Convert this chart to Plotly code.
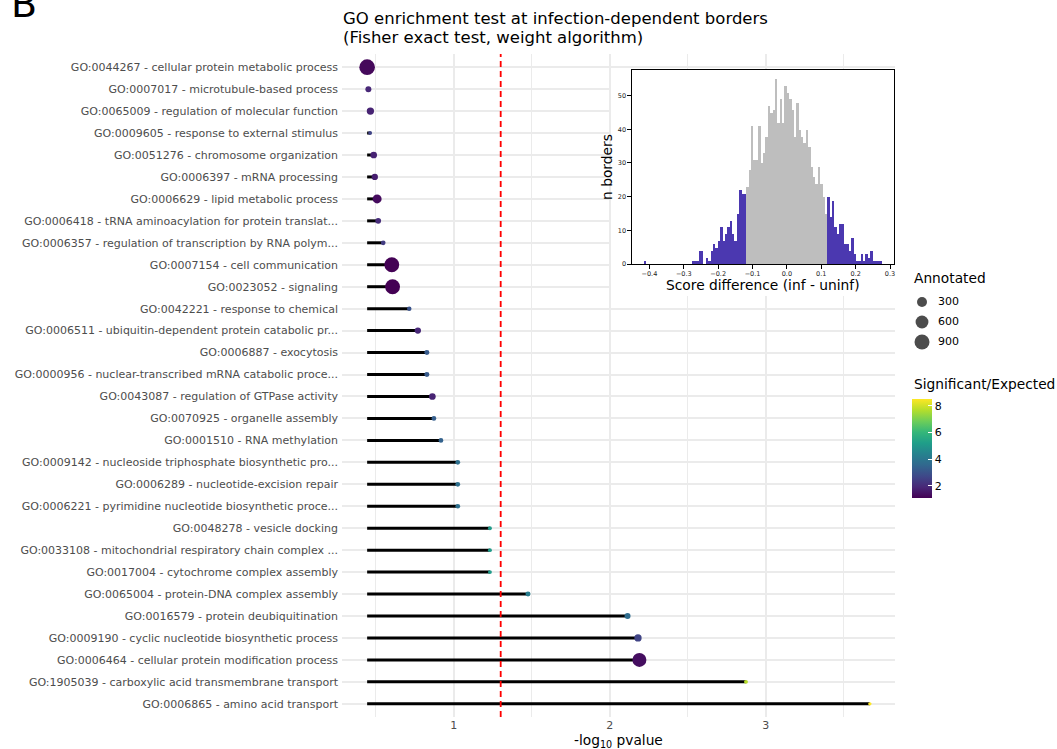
import numpy as np
import plotly.graph_objects as go

W, H = 1057, 749

# GO terms, listed top to bottom
go_terms = [
    "GO:0044267 - cellular protein metabolic process",
    "GO:0007017 - microtubule-based process",
    "GO:0065009 - regulation of molecular function",
    "GO:0009605 - response to external stimulus",
    "GO:0051276 - chromosome organization",
    "GO:0006397 - mRNA processing",
    "GO:0006629 - lipid metabolic process",
    "GO:0006418 - tRNA aminoacylation for protein translat...",
    "GO:0006357 - regulation of transcription by RNA polym...",
    "GO:0007154 - cell communication",
    "GO:0023052 - signaling",
    "GO:0042221 - response to chemical",
    "GO:0006511 - ubiquitin-dependent protein catabolic pr...",
    "GO:0006887 - exocytosis",
    "GO:0000956 - nuclear-transcribed mRNA catabolic proce...",
    "GO:0043087 - regulation of GTPase activity",
    "GO:0070925 - organelle assembly",
    "GO:0001510 - RNA methylation",
    "GO:0009142 - nucleoside triphosphate biosynthetic pro...",
    "GO:0006289 - nucleotide-excision repair",
    "GO:0006221 - pyrimidine nucleotide biosynthetic proce...",
    "GO:0048278 - vesicle docking",
    "GO:0033108 - mitochondrial respiratory chain complex ...",
    "GO:0017004 - cytochrome complex assembly",
    "GO:0065004 - protein-DNA complex assembly",
    "GO:0016579 - protein deubiquitination",
    "GO:0009190 - cyclic nucleotide biosynthetic process",
    "GO:0006464 - cellular protein modification process",
    "GO:1905039 - carboxylic acid transmembrane transport",
    "GO:0006865 - amino acid transport",
]
neg_log10_p = [
    0.445, 0.453, 0.466, 0.464, 0.487, 0.494, 0.509, 0.516, 0.548, 0.603,
    0.608, 0.715, 0.770, 0.828, 0.828, 0.863, 0.873, 0.918, 1.026, 1.026,
    1.026, 1.232, 1.232, 1.232, 1.476, 2.114, 2.181, 2.190, 2.873, 3.667,
]
annotated = [
    1000, 57, 113, 14, 85, 68, 219, 48, 24, 870,
    880, 20, 68, 29, 29, 85, 24, 24, 24, 24,
    24, 14, 14, 14, 29, 57, 113, 753, 14, 12,
]
sig_expected = [
    1.25, 1.9, 1.8, 2.6, 1.8, 1.7, 1.3, 2.0, 2.4, 1.1,
    1.08, 3.0, 1.9, 3.2, 3.2, 1.8, 3.3, 3.4, 3.8, 3.8,
    3.8, 5.1, 5.1, 5.1, 4.2, 3.7, 2.6, 1.35, 7.7, 8.5,
]

# Histogram of border score differences (inf - uninf)
score_min, score_max, n_bins = -0.416, 0.277, 100
border_counts = [
    1, 0, 0, 0, 0, 0, 0, 0, 0, 0,
    0, 0, 0, 0, 0, 0, 0, 0, 0, 0,
    1, 1, 1, 4, 4, 0, 2, 1, 4, 6,
    5, 7, 11, 7, 9, 11, 13, 9, 7, 15,
    22, 21, 21, 23, 28, 41, 31, 31, 41, 30,
    33, 38, 47, 45, 46, 55, 42, 49, 42, 53,
    51, 49, 46, 38, 48, 40, 38, 36, 40, 35,
    29, 26, 24, 29, 24, 20, 15, 20, 14, 19,
    11, 9, 12, 12, 6, 6, 4, 8, 3, 1,
    1, 3, 1, 3, 2, 4, 1, 1, 1, 1,
]
score_threshold = 0.12
alpha = 0.05
size_breaks = [300, 600, 900]
x_ticks = [1, 2, 3]
x_minor = [0.5, 1.5, 2.5, 3.5]
ratio_ticks = [2, 4, 6, 8]
hist_xticks = [-0.4, -0.3, -0.2, -0.1, 0.0, 0.1, 0.2, 0.3]
hist_yticks = [0, 10, 20, 30, 40, 50]

FONT = "DejaVu Sans"
AXIS_TXT = "#4D4D4D"
GRID = "#EBEBEB"


def fx(px):
    return px / W


def fy(py):
    return 1 - py / H


n = len(go_terms)
ypos = list(range(n - 1, -1, -1))

a_min, a_max = min(annotated), max(annotated)


def dot_diameter(a):
    size = 1 + 5 * np.sqrt((a - a_min) / (a_max - a_min))
    return 2.45 * size + 0.93


seg_start = min(neg_log10_p)
span = max(neg_log10_p) - seg_start
x_range = [seg_start - 0.05 * span, max(neg_log10_p) + 0.05 * span]

fig = go.Figure()

# lollipop sticks
seg_x, seg_y = [], []
for v, y in zip(neg_log10_p, ypos):
    seg_x += [seg_start, v, None]
    seg_y += [y, y, None]
fig.add_trace(go.Scatter(
    x=seg_x, y=seg_y, mode="lines", line=dict(color="black", width=3),
    hoverinfo="skip", showlegend=False, xaxis="x", yaxis="y",
))

# lollipop heads
fig.add_trace(go.Scatter(
    x=neg_log10_p, y=ypos, mode="markers", showlegend=False,
    xaxis="x", yaxis="y",
    marker=dict(
        size=[dot_diameter(a) for a in annotated], sizemode="diameter",
        color=sig_expected, colorscale="Viridis",
        cmin=min(sig_expected), cmax=max(sig_expected),
        line=dict(width=0), opacity=1,
        colorbar=dict(
            x=fx(912), xanchor="left", xpad=0,
            y=fy(399), yanchor="top", ypad=0,
            lenmode="pixels", len=99, thickness=20, thicknessmode="pixels",
            outlinewidth=0, tickvals=ratio_ticks, ticks="inside",
            ticklen=4, tickcolor="white", tickwidth=1,
            tickfont=dict(size=11, color="black", family=FONT),
        ),
    ),
    text=go_terms, hovertemplate="%{text}<br>-log10 p = %{x}<extra></extra>",
))

# white backing behind the inset
fig.add_trace(go.Scatter(x=[None], y=[None], xaxis="x2", yaxis="y2",
                         showlegend=False, hoverinfo="skip"))

# inset histogram
bin_w = (score_max - score_min) / n_bins
edges = score_min + bin_w * np.arange(n_bins + 1)
centers = (edges[:-1] + edges[1:]) / 2
bar_colors = ["#4B38B0" if abs(c) > score_threshold else "#BEBEBE" for c in centers]
fig.add_trace(go.Bar(
    x=centers, y=border_counts, width=bin_w, marker=dict(color=bar_colors, line=dict(width=0)),
    xaxis="x3", yaxis="y3", showlegend=False,
))
hx_pad = 0.05 * (score_max - score_min)

# size legend keys
leg_y = [302 + 20 * i for i in range(len(size_breaks))]
fig.add_trace(go.Scatter(
    x=[922] * len(size_breaks), y=leg_y, mode="markers", xaxis="x4", yaxis="y4",
    marker=dict(size=[dot_diameter(s) for s in size_breaks], color="black", line=dict(width=0)),
    showlegend=False, hoverinfo="skip",
))
fig.add_trace(go.Scatter(
    x=[938] * len(size_breaks), y=leg_y, mode="text", xaxis="x4", yaxis="y4",
    text=[str(s) for s in size_breaks], textposition="middle right",
    textfont=dict(size=11, color="black", family=FONT),
    showlegend=False, hoverinfo="skip",
))

hidden = dict(visible=False, showgrid=False, zeroline=False, fixedrange=True)

fig.update_layout(
    width=W, height=H, margin=dict(l=0, r=0, t=0, b=0),
    template="none", paper_bgcolor="white", plot_bgcolor="white",
    font=dict(family=FONT, color="black"),
    bargap=0,
    xaxis=dict(
        domain=[fx(342), fx(895)], range=x_range, anchor="y",
        tickvals=x_ticks, ticks="", showline=False, zeroline=False,
        showgrid=True, gridcolor=GRID, gridwidth=1.6,
        minor=dict(tickvals=x_minor, showgrid=True, gridcolor=GRID, gridwidth=0.8, ticks=""),
        tickfont=dict(size=11, color=AXIS_TXT), automargin=False,
    ),
    yaxis=dict(
        domain=[fy(717), fy(54)], range=[-0.6, n - 0.4], anchor="x",
        tickvals=ypos, ticktext=go_terms, ticks="", showline=False, zeroline=False,
        showgrid=True, gridcolor=GRID, gridwidth=1.6,
        tickfont=dict(size=11, color=AXIS_TXT), automargin=False,
        ticklabelstandoff=3,
    ),
    xaxis2=dict(domain=[fx(611), fx(896)], anchor="y2", **hidden),
    yaxis2=dict(domain=[fy(296), fy(69)], anchor="x2", **hidden),
    xaxis3=dict(
        domain=[fx(632), fx(894)], anchor="y3",
        range=[score_min - hx_pad, score_max + hx_pad],
        tickvals=hist_xticks, tickformat=".1f",
        showline=True, mirror=True, linecolor="black", linewidth=1.3,
        ticks="outside", ticklen=3.5, tickwidth=0.8, tickcolor="black",
        tickfont=dict(size=6.5, color="#222222"),
        showgrid=False, zeroline=False, automargin=False,
    ),
    yaxis3=dict(
        domain=[fy(264), fy(69.5)], anchor="x3",
        range=[0, max(border_counts) * 1.05],
        tickvals=hist_yticks,
        showline=True, mirror=True, linecolor="black", linewidth=1.3,
        ticks="outside", ticklen=3.5, tickwidth=0.8, tickcolor="black",
        tickfont=dict(size=6.5, color="#222222"),
        showgrid=False, zeroline=False, automargin=False,
    ),
    xaxis4=dict(domain=[fx(900), fx(1000)], anchor="y4", range=[900, 1000], **hidden),
    yaxis4=dict(domain=[fy(355), fy(290)], anchor="x4", range=[355, 290], **hidden),
    shapes=[
        dict(type="line", xref="x", yref="y domain", x0=-np.log10(alpha), x1=-np.log10(alpha),
             y0=0, y1=1, line=dict(color="red", width=1.8, dash="6px,4px"), layer="above"),
    ],
    annotations=[
        dict(text="B", x=fx(9), y=fy(4), xref="paper", yref="paper", xanchor="left",
             yanchor="middle", showarrow=False, font=dict(size=38, color="black")),
        dict(text="GO enrichment test at infection-dependent borders", x=fx(341), y=fy(19),
             xref="paper", yref="paper", xanchor="left", yanchor="middle",
             showarrow=False, font=dict(size=16.5, color="black")),
        dict(text="(Fisher exact test, weight algorithm)", x=fx(341), y=fy(37),
             xref="paper", yref="paper", xanchor="left", yanchor="middle",
             showarrow=False, font=dict(size=16.5, color="black")),
        dict(text="-log<sub>10</sub> pvalue", x=fx(618), y=fy(741), xref="paper", yref="paper",
             xanchor="center", yanchor="middle", showarrow=False, font=dict(size=13.75)),
        dict(text="Score difference (inf - uninf)", x=fx(763), y=fy(285), xref="paper",
             yref="paper", xanchor="center", yanchor="middle", showarrow=False,
             font=dict(size=13.8)),
        dict(text="n borders", x=fx(607), y=fy(167), xref="paper", yref="paper",
             xanchor="center", yanchor="middle", textangle=-90, showarrow=False,
             font=dict(size=13.8)),
        dict(text="Annotated", x=fx(912), y=fy(278), xref="paper", yref="paper",
             xanchor="left", yanchor="middle", showarrow=False, font=dict(size=13.75)),
        dict(text="Significant/Expected", x=fx(912), y=fy(384), xref="paper", yref="paper",
             xanchor="left", yanchor="middle", showarrow=False, font=dict(size=13.75)),
    ],
)

fig.write_html("out.html")
